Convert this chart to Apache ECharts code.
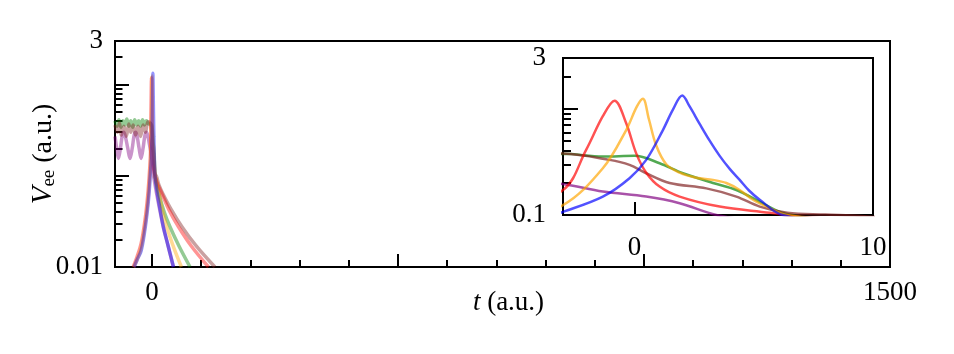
<!DOCTYPE html>
<html>
<head>
<meta charset="utf-8">
<script src="https://cdn.jsdelivr.net/npm/echarts@6/dist/echarts.min.js"></script>
<style>
  html, body { margin: 0; padding: 0; background: #fff; }
  #chart { width: 954px; height: 354px; }
</style>
</head>
<body>
<div id="chart"></div>
<script>
// [t, Vee] pairs
const purpleData = [[-75, 0.27], [-71.5, 0.2], [-68, 0.155], [-64, 0.2], [-60, 0.28], [-57, 0.3], [-54, 0.27], [-49, 0.2], [-44.5, 0.155], [-40, 0.2], [-36, 0.28], [-33, 0.3], [-30, 0.27], [-26, 0.2], [-22, 0.155], [-18, 0.2], [-14, 0.28], [-11, 0.3], [-8, 0.27], [-5, 0.22], [-3, 0.196], [-1.33, 0.166], [0.49, 0.149], [1.89, 0.129], [3.43, 0.1], [5, 0.088], [9.5, 0.064], [15, 0.045], [23, 0.0276], [33, 0.017], [43.5, 0.01]];
const greenData = [[-75, 0.4], [-71, 0.35], [-67, 0.41], [-63, 0.34], [-59, 0.4], [-55, 0.36], [-51, 0.42], [-47, 0.35], [-43, 0.4], [-39, 0.34], [-35, 0.41], [-31, 0.36], [-27, 0.4], [-23, 0.35], [-19, 0.41], [-15, 0.36], [-11, 0.4], [-7, 0.37], [-3, 0.376], [-1.33, 0.355], [0, 0.36], [1.05, 0.307], [2.03, 0.247], [3.29, 0.2], [4.27, 0.172], [5.25, 0.133], [6.2, 0.105], [8, 0.09], [14, 0.064], [25, 0.04], [36.7, 0.0276], [55, 0.017], [77.5, 0.01]];
const brownData = [[-75, 0.36], [-70, 0.3], [-66, 0.38], [-62, 0.28], [-57, 0.35], [-52, 0.27], [-47, 0.37], [-43, 0.3], [-38, 0.36], [-33, 0.28], [-28, 0.35], [-23, 0.27], [-18, 0.36], [-13, 0.3], [-8, 0.39], [-3, 0.378], [-1.05, 0.33], [-0.21, 0.296], [0.49, 0.247], [1.47, 0.2], [3.01, 0.178], [4.27, 0.149], [5.25, 0.12], [6.4, 0.105], [8, 0.101], [9.5, 0.098], [14, 0.08], [22, 0.064], [40, 0.042], [61, 0.0276], [90, 0.017], [128, 0.01]];
const redData = [[-38, 0.01], [-30, 0.013], [-22, 0.018], [-15, 0.03], [-10, 0.05], [-6, 0.09], [-3, 0.172], [-2.03, 0.41], [-1.33, 0.85], [-0.84, 1.19], [-0.35, 0.73], [0.07, 0.38], [0.49, 0.25], [1.05, 0.185], [1.89, 0.149], [3.57, 0.12], [5.67, 0.105], [6.6, 0.098], [12, 0.08], [20, 0.064], [35, 0.042], [54, 0.0276], [80, 0.017], [115, 0.01]];
const orangeData = [[-37, 0.01], [-30, 0.012], [-22, 0.016], [-15, 0.026], [-10, 0.042], [-6, 0.072], [-3, 0.124], [-1.33, 0.275], [-0.35, 0.63], [0.1, 1.05], [0.35, 1.24], [0.6, 0.8], [0.91, 0.45], [1.33, 0.3], [1.89, 0.25], [2.59, 0.224], [3.29, 0.214], [3.85, 0.2], [4.41, 0.172], [4.97, 0.139], [5.67, 0.116], [6.37, 0.1], [10, 0.08], [15, 0.06], [20, 0.045], [30, 0.0276], [45, 0.016], [60, 0.01]];
const blueData = [[-36, 0.01], [-30, 0.012], [-22, 0.015], [-15, 0.024], [-10, 0.038], [-6, 0.062], [-3, 0.107], [-1.33, 0.149], [-0.21, 0.222], [0.49, 0.33], [1.19, 0.63], [1.61, 0.98], [2.0, 1.33], [2.31, 1.05], [2.73, 0.72], [3.15, 0.5], [3.57, 0.36], [4.0, 0.27], [4.4, 0.215], [4.8, 0.17], [5.25, 0.139], [6.2, 0.1], [10, 0.07], [15, 0.048], [23, 0.028], [33, 0.017], [44, 0.01]];

// ticks and labels
const mainXMajor = [0, 500, 1000, 1500];
const mainXMinor = [100, 200, 300, 400, 600, 700, 800, 900, 1100, 1200, 1300, 1400];
const mainXLabels = [0, 1500];
const mainYMajor = [0.1, 1];
const mainYMinor = [0.02, 0.03, 0.04, 0.05, 0.06, 0.07, 0.08, 0.09, 0.2, 0.3, 0.4, 0.5, 0.6, 0.7, 0.8, 0.9, 2];
const mainYLabels = [0.01, 3];
const insetXMajor = [0];
const insetXLabels = [0, 10];
const insetYMajor = [1];
const insetYMinor = [0.2, 0.3, 0.4, 0.5, 0.6, 0.7, 0.8, 0.9, 2];
const insetYLabels = [0.1, 3];

const FONT = 'Liberation Serif';
const lg = v => Math.log10(v);

const lines = [
  { name: 'purple', color: '#800080', data: purpleData },
  { name: 'green', color: '#008000', data: greenData },
  { name: 'brown', color: '#7f1f1f', data: brownData },
  { name: 'red', color: '#ff0000', data: redData },
  { name: 'orange', color: '#ffa500', data: orangeData },
  { name: 'blue', color: '#0000ff', data: blueData }
];

// tick-only axis (for y: a value axis in log10 space, sitting on top of the log data axis)
function tickAxis(gridIndex, min, max, ticks, len, labels, extra) {
  return Object.assign({
    type: 'value',
    gridIndex: gridIndex,
    min: min,
    max: max,
    axisLine: { show: false, onZero: false },
    splitLine: { show: false },
    axisTick: { show: true, inside: true, length: len, lineStyle: { color: '#000', width: 2 }, customValues: ticks },
    axisLabel: labels
      ? { show: true, customValues: labels, fontFamily: FONT, fontSize: 27, color: '#000', margin: 12, formatter: v => String(v) }
      : { show: false }
  }, extra || {});
}

const chart = echarts.init(document.getElementById('chart'));

const option = {
  animation: false,
  backgroundColor: '#fff',
  grid: [
    { left: 115, top: 41, right: 64, bottom: 87, show: true, borderColor: '#000', borderWidth: 2, outerBoundsMode: 'none' },
    { left: 563, top: 58, width: 310, height: 157, show: true, backgroundColor: '#fff', borderColor: '#000', borderWidth: 2, outerBoundsMode: 'none', z: 5 }
  ],
  xAxis: [
    tickAxis(0, -75, 1500, mainXMajor, 13, mainXLabels, {
      position: 'bottom',
      name: '{t|t} (a.u.)',
      nameLocation: 'middle',
      nameGap: 22,
      nameMoveOverlap: false,
      nameTextStyle: { fontFamily: FONT, fontSize: 27, color: '#000', padding: [0, 0, 0, 12], rich: { t: { fontFamily: FONT, fontSize: 27, fontStyle: 'italic' } } }
    }),
    tickAxis(0, -75, 1500, mainXMinor, 7, null, { position: 'bottom' }),
    tickAxis(1, -3, 10, insetXMajor, 13, insetXLabels, { position: 'bottom', z: 6 })
  ],
  yAxis: [
    // data axes (log scale)
    { type: 'log', gridIndex: 0, min: 0.01, max: 3, position: 'left', show: false },
    { type: 'log', gridIndex: 1, min: 0.1, max: 3, position: 'left', show: false },
    // tick axes
    tickAxis(0, lg(0.01), lg(3), mainYMajor.map(lg), 14, mainYLabels.map(lg), {
      position: 'left',
      name: '{v|V}{s|ee} (a.u.)',
      nameLocation: 'middle',
      nameGap: 56,
      nameMoveOverlap: false,
      nameTextStyle: {
        fontFamily: FONT, fontSize: 28, color: '#000',
        rich: {
          v: { fontFamily: FONT, fontSize: 29, fontStyle: 'italic' },
          s: { fontFamily: FONT, fontSize: 19, padding: [12, 0, 0, 0] }
        }
      }
    }),
    tickAxis(0, lg(0.01), lg(3), mainYMinor.map(lg), 7.5, null, { position: 'left' }),
    tickAxis(1, lg(0.1), lg(3), insetYMajor.map(lg), 15, insetYLabels.map(lg), { position: 'left', z: 6 }),
    tickAxis(1, lg(0.1), lg(3), insetYMinor.map(lg), 8, null, { position: 'left', z: 6 })
  ],
  series: []
};

// label text for the log10 tick axes
option.yAxis[2].axisLabel.formatter = v => String(+Math.pow(10, v).toPrecision(2));
option.yAxis[4].axisLabel.formatter = v => String(+Math.pow(10, v).toPrecision(2));
option.yAxis[4].axisLabel.margin = 17;
option.xAxis[2].axisLabel.margin = 19;

lines.forEach(l => {
  // main panel
  option.series.push({
    name: l.name,
    type: 'line',
    xAxisIndex: 0,
    yAxisIndex: 0,
    data: l.data,
    showSymbol: false,
    smooth: 0.35,
    clip: true,
    lineStyle: { color: l.color, width: 3.5, opacity: 0.42 },
    z: 2
  });
  // inset
  option.series.push({
    name: l.name,
    type: 'line',
    xAxisIndex: 2,
    yAxisIndex: 1,
    data: l.data,
    showSymbol: false,
    smooth: 0.35,
    clip: true,
    lineStyle: { color: l.color, width: 2.5, opacity: 0.68 },
    z: 6
  });
});

chart.setOption(option);
</script>
</body>
</html>
